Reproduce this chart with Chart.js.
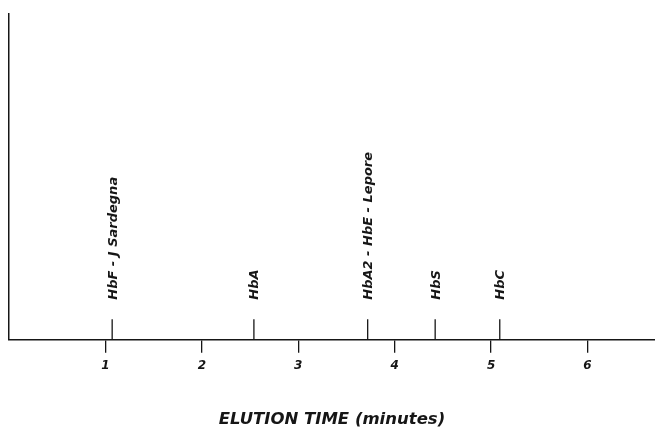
<!DOCTYPE html>
<html>
<head>
<meta charset="utf-8">
<script src="https://cdn.jsdelivr.net/npm/chart.js@4/dist/chart.umd.min.js"></script>
<style>
  html, body { margin: 0; padding: 0; background: #fff; }
  #wrap { width: 655px; height: 432px; position: relative; }
</style>
</head>
<body>
<div id="wrap"><canvas id="c"></canvas></div>
<script>
// ---- data ----
const tickValues = [1, 2, 3, 4, 5, 6];
const peakNames = ['HbF - J Sardegna', 'HbA', 'HbA2 - HbE - Lepore', 'HbS', 'HbC'];
const peakTimes = [1.07, 2.54, 3.72, 4.42, 5.09];
const axisTitle = 'ELUTION TIME (minutes)';

// ---- styling ----
const INK = '#161616';
const FONT = '"DejaVu Sans", "Liberation Sans", Arial, sans-serif';
const markerTop = 6.3;   // y-units (scale 0..100)
const labelBase = 12.3;  // y-units where rotated label text starts

const datasets = peakTimes.map((t) => ({
  data: [{ x: t, y: 0 }, { x: t, y: markerTop }],
  showLine: true,
  borderColor: INK,
  borderWidth: 1.3,
  pointRadius: 0,
  fill: false
}));

const peakLabelPlugin = {
  id: 'peakLabels',
  afterDatasetsDraw(chart) {
    const { ctx, scales } = chart;
    ctx.save();
    ctx.fillStyle = INK;
    ctx.font = 'italic bold 13px ' + FONT;
    ctx.textAlign = 'left';
    ctx.textBaseline = 'middle';
    peakTimes.forEach((t, i) => {
      const px = scales.x.getPixelForValue(t);
      const py = scales.y.getPixelForValue(labelBase);
      ctx.save();
      ctx.translate(px + 1, py);
      ctx.rotate(-Math.PI / 2);
      ctx.fillText(peakNames[i], 0, 0);
      ctx.restore();
    });
    ctx.restore();
  }
};

new Chart(document.getElementById('c'), {
  type: 'scatter',
  data: { datasets },
  options: {
    responsive: true,
    maintainAspectRatio: false,
    animation: false,
    layout: { padding: { top: 14, left: 9, right: 0, bottom: 2 } },
    plugins: { legend: { display: false }, tooltip: { enabled: false } },
    scales: {
      x: {
        type: 'linear',
        min: 0,
        max: 6.7,
        afterBuildTicks: (axis) => { axis.ticks = tickValues.map(v => ({ value: v })); },
        grid: { display: true, drawOnChartArea: false, drawTicks: true, tickLength: 13, color: INK, lineWidth: 1.3 },
        border: { display: true, color: INK, width: 1.5 },
        ticks: {
          color: INK,
          padding: 6,
          maxRotation: 0,
          font: { family: FONT, size: 12, weight: 'bold', style: 'italic' },
          callback: (v) => String(v)
        },
        title: {
          display: true,
          text: axisTitle,
          color: INK,
          padding: { top: 31, bottom: 0 },
          font: { family: FONT, size: 16.5, weight: 'bold', style: 'italic' }
        }
      },
      y: {
        type: 'linear',
        min: 0,
        max: 100,
        grid: { display: false, drawTicks: false },
        border: { display: true, color: INK, width: 1.5 },
        ticks: { display: false }
      }
    }
  },
  plugins: [peakLabelPlugin]
});
</script>
</body>
</html>
